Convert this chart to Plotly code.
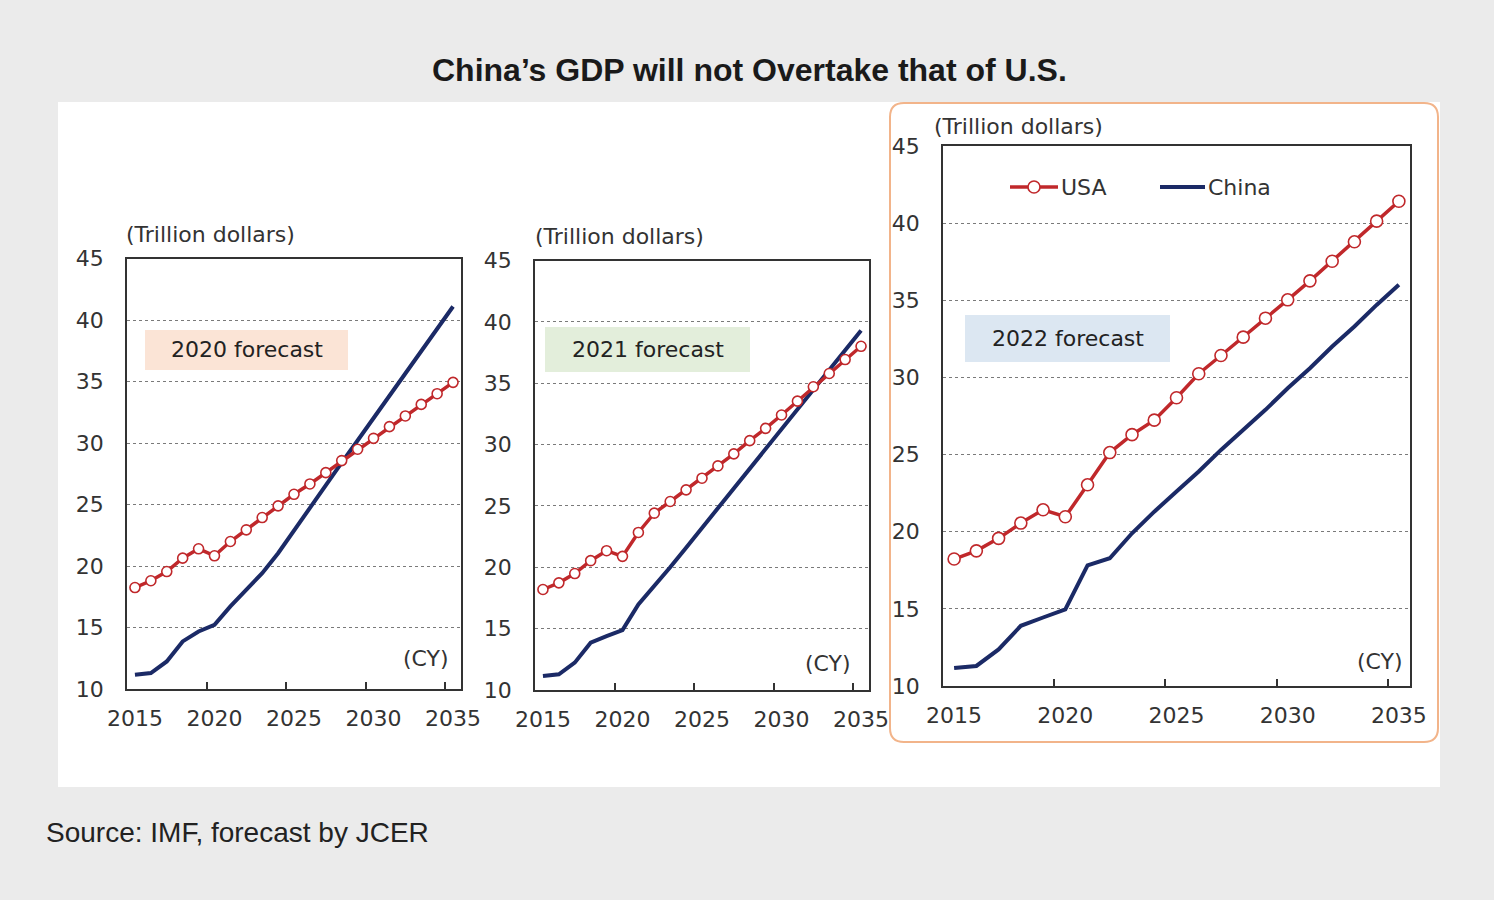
import plotly.graph_objects as go

W, H = 1494, 900

years = list(range(2015, 2036))
tick_years = [2015, 2020, 2025, 2030, 2035]
tick_marks = [2019.5, 2024.5, 2029.5, 2034.5]
y_ticks = [10, 15, 20, 25, 30, 35, 40, 45]

usa_2020 = [18.25, 18.8, 19.55, 20.64, 21.4, 20.83, 21.99, 22.94, 23.94, 24.89, 25.83,
            26.67, 27.59, 28.57, 29.49, 30.38, 31.33, 32.2, 33.14, 34.01, 34.93]
china_2020 = [11.16, 11.3, 12.24, 13.87, 14.68, 15.22, 16.71, 18.06, 19.42, 21.04, 22.9,
              24.8, 26.6, 28.4, 30.2, 32.0, 33.8, 35.7, 37.5, 39.3, 41.1]

usa_2021 = [18.19, 18.73, 19.49, 20.54, 21.35, 20.89, 22.84, 24.41, 25.36, 26.31, 27.26,
            28.26, 29.24, 30.32, 31.32, 32.41, 33.54, 34.71, 35.79, 36.93, 38.01]
china_2021 = [11.14, 11.28, 12.23, 13.85, 14.39, 14.88, 16.97, 18.46, 20.0, 21.6, 23.2,
              24.8, 26.4, 28.0, 29.6, 31.2, 32.9, 34.5, 36.1, 37.7, 39.3]

usa_2022 = [18.23, 18.76, 19.57, 20.56, 21.42, 20.97, 23.04, 25.13, 26.29, 27.23, 28.68,
            30.24, 31.42, 32.61, 33.84, 35.03, 36.26, 37.53, 38.79, 40.13, 41.42]
china_2022 = [11.16, 11.3, 12.37, 13.9, 14.44, 14.97, 17.82, 18.28, 19.9, 21.3, 22.6,
              23.9, 25.3, 26.6, 27.9, 29.3, 30.6, 32.0, 33.3, 34.7, 36.0]

panel_labels = ["2020 forecast", "2021 forecast", "2022 forecast"]
series_names = ["USA", "China"]

USA_C = "#c0282b"
CHN_C = "#1b2a66"
TXT = "#333333"
FONT = "DejaVu Sans"


def px(x):
    return x / W


def py(y):
    return 1 - y / H


# plot area pixel boxes: left, right, top, bottom
boxes = [(127, 461, 258.5, 689), (535, 869, 260.5, 690), (943, 1410, 146, 686)]
msizes = [10, 10, 12]
data = [(usa_2020, china_2020), (usa_2021, china_2021), (usa_2022, china_2022)]

fig = go.Figure()
layout = dict(
    width=W, height=H, margin=dict(l=0, r=0, t=0, b=0, pad=0), autosize=False,
    paper_bgcolor="#ebebeb", plot_bgcolor="white", showlegend=False,
    font=dict(family=FONT, size=22, color=TXT),
)

for i, ((l, r, t, b), (usa, chn)) in enumerate(zip(boxes, data)):
    sfx = "" if i == 0 else str(i + 1)
    xa, ya = "x" + sfx, "y" + sfx
    fig.add_trace(go.Scatter(x=years, y=chn, mode="lines", name=series_names[1],
                             line=dict(color=CHN_C, width=4), xaxis=xa, yaxis=ya))
    fig.add_trace(go.Scatter(x=years, y=usa, mode="lines+markers", name=series_names[0],
                             line=dict(color=USA_C, width=3.5),
                             marker=dict(symbol="circle", size=msizes[i], color="white",
                                         line=dict(color=USA_C, width=1.6)),
                             xaxis=xa, yaxis=ya))
    layout["xaxis" + sfx] = dict(
        domain=[px(l), px(r)], anchor=ya, range=[2014.5, 2035.5], automargin=False,
        tickmode="array", tickvals=tick_years, ticktext=[str(v) for v in tick_years],
        ticks="", showgrid=False, zeroline=False, showline=True, mirror=True,
        linecolor="#333333", linewidth=1.5, ticklabelstandoff=9,
        tickfont=dict(family=FONT, size=22, color=TXT),
        minor=dict(tickmode="array", tickvals=tick_marks, ticks="inside", ticklen=7,
                   tickwidth=1.5, tickcolor="#333333", showgrid=False),
        fixedrange=True,
    )
    layout["yaxis" + sfx] = dict(
        domain=[py(b), py(t)], anchor=xa, range=[10, 45], automargin=False,
        tickmode="array", tickvals=y_ticks, ticks="",
        showgrid=True, gridcolor="#7a7a7a", griddash="dot", gridwidth=1,
        zeroline=False, showline=True, mirror=True, linecolor="#333333", linewidth=1.5,
        ticklabelstandoff=17, tickfont=dict(family=FONT, size=22, color=TXT),
        fixedrange=True,
    )

shapes = []
# white panel background
shapes.append(dict(type="rect", xref="paper", yref="paper", x0=px(58), x1=px(1440),
                   y0=py(787), y1=py(102), fillcolor="white", line=dict(width=0),
                   layer="below"))
# orange rounded border around 3rd panel
x0, x1, y0, y1, rr = 890, 1438, 103, 742, 14
path = (f"M {px(x0 + rr)},{py(y0)} L {px(x1 - rr)},{py(y0)} "
        f"Q {px(x1)},{py(y0)} {px(x1)},{py(y0 + rr)} "
        f"L {px(x1)},{py(y1 - rr)} Q {px(x1)},{py(y1)} {px(x1 - rr)},{py(y1)} "
        f"L {px(x0 + rr)},{py(y1)} Q {px(x0)},{py(y1)} {px(x0)},{py(y1 - rr)} "
        f"L {px(x0)},{py(y0 + rr)} Q {px(x0)},{py(y0)} {px(x0 + rr)},{py(y0)} Z")
shapes.append(dict(type="path", xref="paper", yref="paper", path=path,
                   line=dict(color="#f2b48a", width=2), fillcolor="rgba(0,0,0,0)",
                   layer="below"))

# forecast label boxes
fbox = [(145, 348, 330, 370, "#fbe4d6"), (545, 750, 327, 372, "#e3eedb"),
        (965, 1170, 315, 362, "#dce7f2")]
annotations = []
for (bx0, bx1, by0, by1, col), lab in zip(fbox, panel_labels):
    shapes.append(dict(type="rect", xref="paper", yref="paper", x0=px(bx0), x1=px(bx1),
                       y0=py(by1), y1=py(by0), fillcolor=col, line=dict(width=0),
                       layer="above"))
    annotations.append(dict(xref="paper", yref="paper", x=px((bx0 + bx1) / 2),
                            y=py((by0 + by1) / 2), text=lab, showarrow=False,
                            font=dict(family=FONT, size=22, color="#222222"),
                            xanchor="center", yanchor="middle"))

# unit labels
for (ux, uy) in [(124, 235), (533, 237), (932, 126)]:
    annotations.append(dict(xref="paper", yref="paper", x=px(ux), y=py(uy),
                            text="(Trillion dollars)", showarrow=False,
                            font=dict(family=FONT, size=22, color=TXT),
                            xanchor="left", yanchor="middle"))
for (cx, cy) in [(451, 658), (853, 663), (1405, 661)]:
    annotations.append(dict(xref="paper", yref="paper", x=px(cx), y=py(cy),
                            text="(CY)", showarrow=False,
                            font=dict(family=FONT, size=22, color=TXT),
                            xanchor="right", yanchor="middle"))

# legend (panel 3)
ly = 187
shapes.append(dict(type="line", xref="paper", yref="paper", x0=px(1010), x1=px(1058),
                   y0=py(ly), y1=py(ly), line=dict(color=USA_C, width=3.5)))
shapes.append(dict(type="circle", xref="paper", yref="paper", x0=px(1028), x1=px(1040),
                   y0=py(ly + 6), y1=py(ly - 6), fillcolor="white",
                   line=dict(color=USA_C, width=1.6)))
shapes.append(dict(type="line", xref="paper", yref="paper", x0=px(1160), x1=px(1205),
                   y0=py(ly), y1=py(ly), line=dict(color=CHN_C, width=4)))
annotations.append(dict(xref="paper", yref="paper", x=px(1059), y=py(ly), text=series_names[0],
                        showarrow=False, font=dict(family=FONT, size=22, color=TXT),
                        xanchor="left", yanchor="middle"))
annotations.append(dict(xref="paper", yref="paper", x=px(1206), y=py(ly), text=series_names[1],
                        showarrow=False, font=dict(family=FONT, size=22, color=TXT),
                        xanchor="left", yanchor="middle"))

# title & source
annotations.append(dict(xref="paper", yref="paper", x=px(749), y=py(70),
                        text="<b>China’s GDP will not Overtake that of U.S.</b>",
                        showarrow=False,
                        font=dict(family="Liberation Sans", size=32, color="#1a1a1a"),
                        xanchor="center", yanchor="middle"))
annotations.append(dict(xref="paper", yref="paper", x=px(44), y=py(832),
                        text="Source: IMF, forecast by JCER", showarrow=False,
                        font=dict(family="Liberation Sans", size=28, color="#222222"),
                        xanchor="left", yanchor="middle"))

layout["shapes"] = shapes
layout["annotations"] = annotations
fig.update_layout(**layout)
fig.write_html("out.html")

# make the page exactly the figure: no body margin, no scrollbars
with open("out.html", "r", encoding="utf-8") as f:
    html = f.read()
html = html.replace("<head>",
                    "<head><style>html,body{margin:0;padding:0;overflow:hidden;}</style>", 1)
with open("out.html", "w", encoding="utf-8") as f:
    f.write(html)
